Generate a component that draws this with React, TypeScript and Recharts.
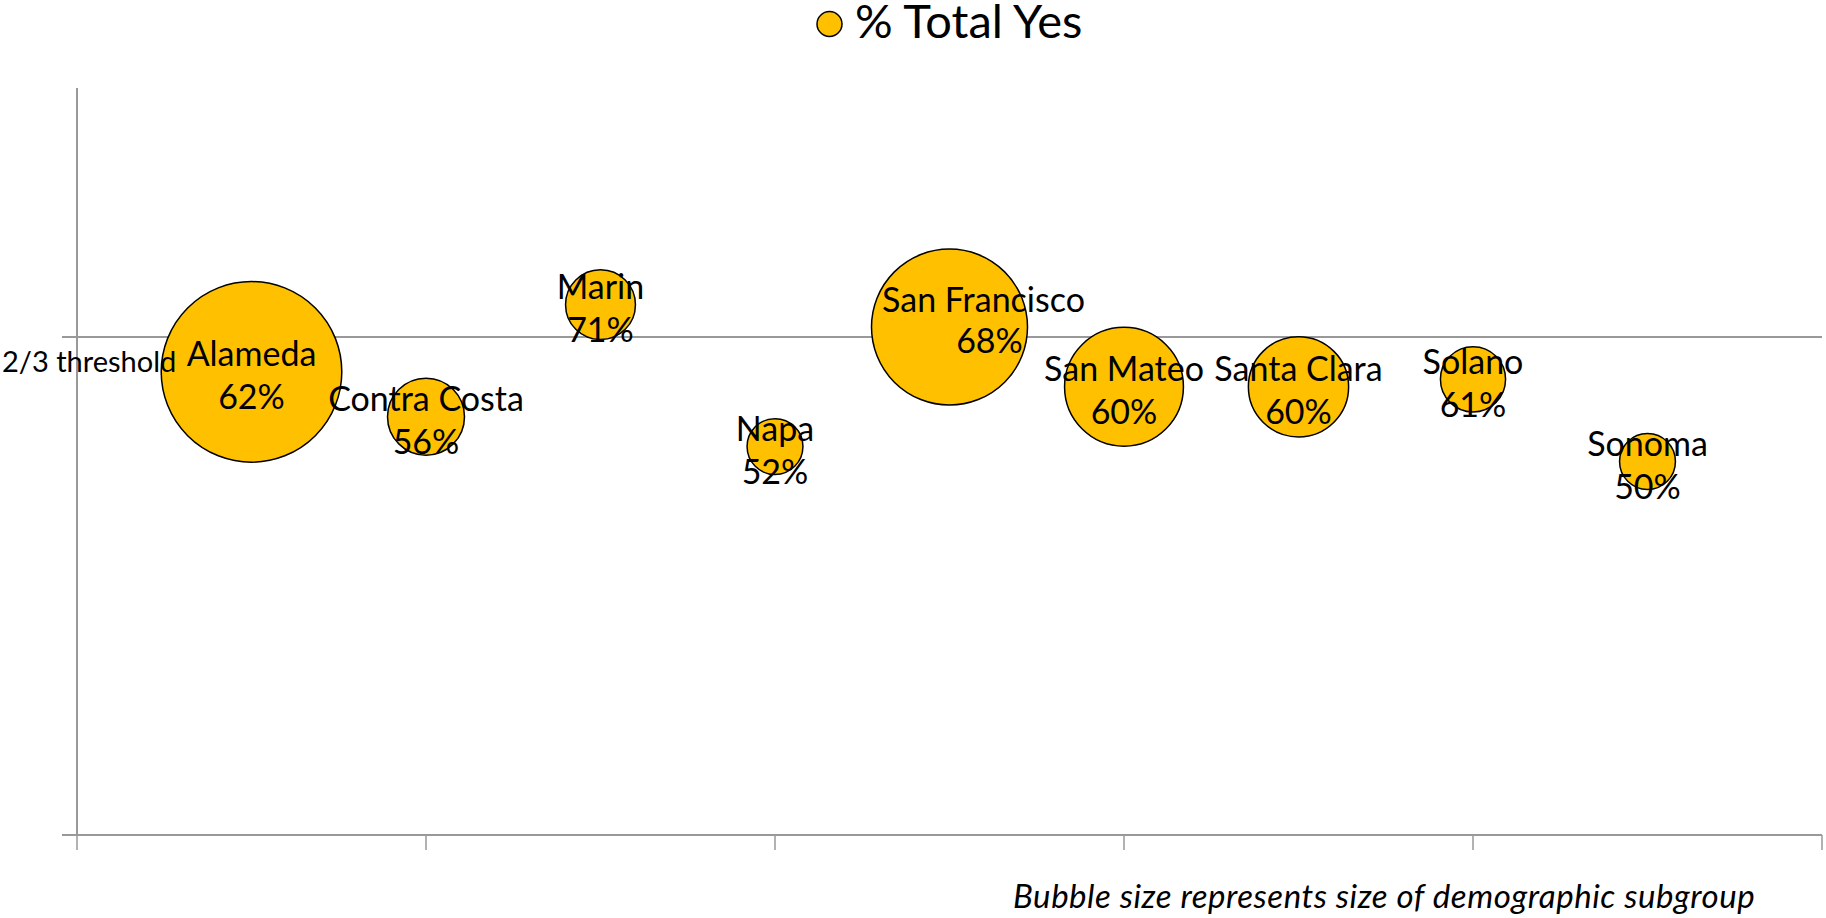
import React from "react";
import {
  ScatterChart,
  Scatter,
  XAxis,
  YAxis,
  ZAxis,
  ReferenceLine,
  Legend,
} from "recharts";

const counties = [
  "Alameda",
  "Contra Costa",
  "Marin",
  "Napa",
  "San Francisco",
  "San Mateo",
  "Santa Clara",
  "Solano",
  "Sonoma",
];
const positions = [1, 2, 3, 4, 5, 6, 7, 8, 9];
const totalYes = [62, 56, 71, 52, 68, 60, 60, 61, 50];
const subgroupSize = [815, 148, 122, 78, 608, 353, 251, 106, 78];
const xTicks = [0, 2, 4, 6, 8, 10];
const threshold = 200 / 3;

const FONT = "Lato, 'Open Sans', sans-serif";
const GOLD = "#FFC000";
const AXIS = "#999999";

const rows = counties.map((name, i) => ({
  name,
  x: positions[i],
  y: totalYes[i],
  size: subgroupSize[i],
}));

// label nudges (San Francisco label was dragged up/right in the original)
const defaultShift = { nx: 0, ny: -19, px: 0, py: 24 };
const labelShift: Record<string, typeof defaultShift> = {
  "San Francisco": { nx: 34, ny: -29, px: 40, py: 12 },
};

const BubbleLabel = (props: any) => {
  const { cx, cy, payload } = props;
  const s = labelShift[payload.name] || defaultShift;
  return (
    <g>
      <text
        x={cx + s.nx}
        y={cy + s.ny}
        textAnchor="middle"
        dominantBaseline="central"
        fontSize={34}
        fontFamily={FONT}
        fill="#000"
      >
        {payload.name}
      </text>
      <text
        x={cx + s.px}
        y={cy + s.py}
        textAnchor="middle"
        dominantBaseline="central"
        fontSize={34}
        fontFamily={FONT}
        fill="#000"
      >
        {payload.y}%
      </text>
    </g>
  );
};

const ThresholdTick = (props: any) => {
  const { y, payload } = props;
  if (payload.value < 1) return <g />;
  return (
    <text x={2} y={y + 35} fontSize={29} fontFamily={FONT} fill="#000">
      2/3 threshold
    </text>
  );
};

// x axis has tick marks but no labels
const NoLabel = () => <g />;

const LegendContent = () => (
  <svg width={1826} height={70} style={{ overflow: "visible" }}>
    <circle cx={829.5} cy={24} r={12.5} fill={GOLD} stroke="#000" strokeWidth={1.5} />
    <text x={855} y={38} fontSize={47} fontFamily={FONT} fill="#000">
      % Total Yes
    </text>
  </svg>
);

export default function App() {
  return (
    <div style={{ position: "absolute", left: 0, top: 0, width: 1826, height: 918 }}>
      <ScatterChart
        width={1826}
        height={918}
        margin={{ top: 88, right: 4, bottom: 53, left: 17 }}
        style={{ fontFamily: FONT }}
      >
        <XAxis
          type="number"
          dataKey="x"
          domain={[0, 10]}
          ticks={xTicks}
          tick={<NoLabel />}
          tickSize={15}
          height={30}
          axisLine={{ stroke: AXIS, strokeWidth: 2 }}
          tickLine={{ stroke: AXIS, strokeWidth: 1.5 }}
        />
        <YAxis
          type="number"
          dataKey="y"
          domain={[0, 100]}
          ticks={[0, threshold]}
          tick={<ThresholdTick />}
          tickSize={15}
          width={60}
          axisLine={{ stroke: AXIS, strokeWidth: 2 }}
          tickLine={{ stroke: AXIS, strokeWidth: 2 }}
        />
        <ZAxis type="number" dataKey="size" domain={[0, 815]} range={[0, 25616]} />
        <ReferenceLine y={threshold} stroke={AXIS} strokeWidth={2} />
        <Legend
          layout="horizontal"
          verticalAlign="middle"
          align="center"
          content={<LegendContent />}
          wrapperStyle={{ top: 0, left: 0, width: 1826, height: 70 }}
        />
        <Scatter
          name="% Total Yes"
          data={rows}
          fill={GOLD}
          stroke="#000"
          strokeWidth={1.5}
          isAnimationActive={false}
        />
        <Scatter
          name="labels"
          data={rows}
          shape={<BubbleLabel />}
          legendType="none"
          isAnimationActive={false}
        />
      </ScatterChart>
      <div
        style={{
          position: "absolute",
          left: 1013,
          top: 876,
          fontFamily: FONT,
          fontStyle: "italic",
          fontSize: 33,
          letterSpacing: "0.55px",
          lineHeight: "38px",
          whiteSpace: "nowrap",
          color: "#000",
        }}
      >
        Bubble size represents size of demographic subgroup
      </div>
    </div>
  );
}
